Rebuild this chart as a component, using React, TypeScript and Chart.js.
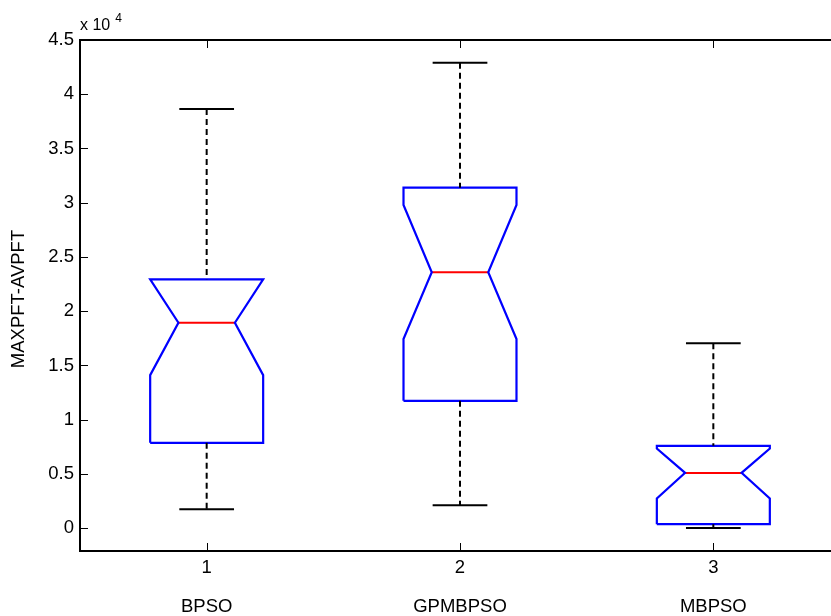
import React, { useEffect, useRef } from 'react';
import { Chart, registerables } from 'chart.js';

Chart.register(...registerables);

// ---- data ----
const categories = ['BPSO', 'GPMBPSO', 'MBPSO'];
const xTickLabels = ['1', '2', '3'];
const positions = [1, 2, 3];
const whiskerLow = [1750, 2120, 30];
const q1 = [7870, 11740, 370];
const notchLow = [14110, 17440, 2740];
const median = [18940, 23590, 5100];
const notchHigh = [22940, 29800, 7350];
const q3 = [22940, 31390, 7590];
const whiskerHigh = [38650, 42900, 17040];
const yTickValues = [0, 5000, 10000, 15000, 20000, 25000, 30000, 35000, 40000, 45000];
const yTickLabels = ['0', '0.5', '1', '1.5', '2', '2.5', '3', '3.5', '4', '4.5'];
const yTitle = 'MAXPFT-AVPFT';
const exponentBase = 'x 10';
const exponent = '4';

// ---- style constants ----
const BOX_HALF = 0.223;
const NOTCH_HALF = 0.1115;
const CAP_HALF = 0.108;
const FONT = '"Liberation Sans", Arial, Helvetica, sans-serif';
const CANVAS_W = 842;
const CANVAS_H = 616;

function buildDatasets() {
  const ds: any[] = [];
  positions.forEach((x, i) => {
    const w = BOX_HALF;
    const n = NOTCH_HALF;
    ds.push({
      data: [{ x, y: whiskerHigh[i] }, { x, y: q3[i] }],
      borderColor: '#000', borderWidth: 2, borderDash: [6, 4],
    });
    ds.push({
      data: [{ x, y: q1[i] }, { x, y: whiskerLow[i] }],
      borderColor: '#000', borderWidth: 2, borderDash: [6, 4],
    });
    ds.push({
      data: [{ x: x - CAP_HALF, y: whiskerHigh[i] }, { x: x + CAP_HALF, y: whiskerHigh[i] }],
      borderColor: '#000', borderWidth: 2,
    });
    ds.push({
      data: [{ x: x - CAP_HALF, y: whiskerLow[i] }, { x: x + CAP_HALF, y: whiskerLow[i] }],
      borderColor: '#000', borderWidth: 2,
    });
    ds.push({
      data: [
        { x: x - w, y: q1[i] },
        { x: x - w, y: notchLow[i] },
        { x: x - n, y: median[i] },
        { x: x - w, y: notchHigh[i] },
        { x: x - w, y: q3[i] },
        { x: x + w, y: q3[i] },
        { x: x + w, y: notchHigh[i] },
        { x: x + n, y: median[i] },
        { x: x + w, y: notchLow[i] },
        { x: x + w, y: q1[i] },
        { x: x - w, y: q1[i] },
      ],
      borderColor: '#0000ff', borderWidth: 2.2,
    });
    ds.push({
      data: [{ x: x - n, y: median[i] }, { x: x + n, y: median[i] }],
      borderColor: '#ff0000', borderWidth: 2,
    });
  });
  return ds.map((d) => ({
    ...d,
    showLine: true,
    pointRadius: 0,
    pointHoverRadius: 0,
    fill: false,
    tension: 0,
    borderJoinStyle: 'miter',
    borderCapStyle: 'butt',
  }));
}

const axesPlugin = {
  id: 'matlabAxes',
  afterDraw(chart: any) {
    const ctx = chart.ctx as CanvasRenderingContext2D;
    const { left, right, top, bottom } = chart.chartArea;
    const xs = chart.scales.x;
    const ys = chart.scales.y;
    ctx.save();
    ctx.strokeStyle = '#000';
    ctx.fillStyle = '#000';
    ctx.lineWidth = 2;
    ctx.beginPath();
    ctx.moveTo(left, top);
    ctx.lineTo(left, bottom);
    ctx.lineTo(right, bottom);
    ctx.lineTo(right, top);
    ctx.closePath();
    ctx.stroke();
    const TL = 8;
    ctx.lineWidth = 1;
    ctx.beginPath();
    yTickValues.forEach((v) => {
      const py = Math.round(ys.getPixelForValue(v)) + 0.5;
      ctx.moveTo(left, py);
      ctx.lineTo(left + TL, py);
      ctx.moveTo(right, py);
      ctx.lineTo(right - TL, py);
    });
    positions.forEach((p) => {
      const px = Math.round(xs.getPixelForValue(p)) + 0.5;
      ctx.moveTo(px, bottom);
      ctx.lineTo(px, bottom - TL);
      ctx.moveTo(px, top);
      ctx.lineTo(px, top + TL);
    });
    ctx.stroke();
    ctx.font = `18.5px ${FONT}`;
    ctx.textAlign = 'right';
    ctx.textBaseline = 'middle';
    yTickValues.forEach((v, i) => {
      ctx.fillText(yTickLabels[i], left - 6, ys.getPixelForValue(v));
    });
    ctx.textAlign = 'center';
    positions.forEach((p, i) => {
      const px = xs.getPixelForValue(p);
      ctx.fillText(xTickLabels[i], px, bottom + 17);
      ctx.fillText(categories[i], px, bottom + 56);
    });
    ctx.textAlign = 'left';
    ctx.textBaseline = 'alphabetic';
    ctx.font = `16px ${FONT}`;
    ctx.fillText(exponentBase, left, 30);
    const w = ctx.measureText(exponentBase).width;
    ctx.font = `12px ${FONT}`;
    ctx.fillText(exponent, left + w + 5, 22);
    ctx.font = `18.5px ${FONT}`;
    ctx.translate(19, 299);
    ctx.rotate(-Math.PI / 2);
    ctx.textAlign = 'center';
    ctx.textBaseline = 'middle';
    ctx.fillText(yTitle, 0, 0);
    ctx.restore();
  },
};

export default function App() {
  const ref = useRef<HTMLCanvasElement | null>(null);
  useEffect(() => {
    document.body.style.margin = '0';
    const canvas = ref.current;
    if (!canvas) return;
    const chart = new Chart(canvas, {
      type: 'scatter',
      data: { datasets: buildDatasets() },
      options: {
        animation: false,
        responsive: false,
        devicePixelRatio: 1,
        events: [],
        layout: { padding: { left: 80, top: 40, right: CANVAS_W - 840, bottom: CANVAS_H - 551 } },
        plugins: { legend: { display: false }, tooltip: { enabled: false } },
        scales: {
          x: { type: 'linear', min: 0.5, max: 3.5, display: false },
          y: { type: 'linear', min: -2100, max: 45000, display: false },
        },
      },
      plugins: [axesPlugin],
    });
    return () => chart.destroy();
  }, []);
  return (
    <div style={{ width: 831, height: 616, overflow: 'hidden', position: 'relative', background: '#fff' }}>
      <canvas ref={ref} width={CANVAS_W} height={CANVAS_H} style={{ width: CANVAS_W, height: CANVAS_H, display: 'block' }} />
    </div>
  );
}
